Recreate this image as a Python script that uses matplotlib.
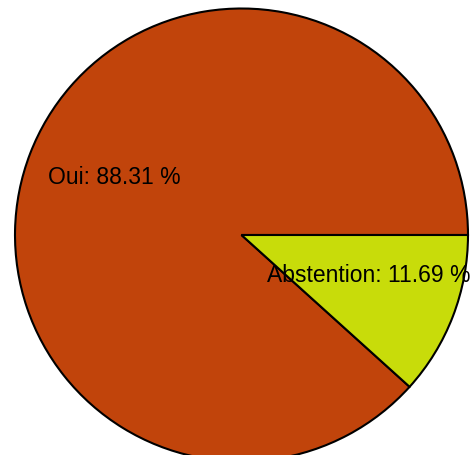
import matplotlib
matplotlib.use("Agg")
import matplotlib.pyplot as plt
import matplotlib.transforms as mtransforms

labels = ["Oui", "Abstention"]
values = [88.31, 11.69]
colors = ["#c1440b", "#c8dc0a"]

plt.rcParams['font.family'] = ['Liberation Sans', 'DejaVu Sans']

fig = plt.figure(figsize=(4.77, 4.55), dpi=100)
W, H = 477, 455
cx, cy, r = 241.5, 235, 226.5
ax = fig.add_axes([(cx - r) / W, (H - cy - r) / H, 2 * r / W, 2 * r / H])

wedges, texts = ax.pie(values, colors=colors, startangle=0, counterclock=True,
                       radius=1, labels=[f"{l}: {v:.2f} %" for l, v in zip(labels, values)],
                       labeldistance=0.6,
                       wedgeprops=dict(edgecolor="black", linewidth=1.5),
                       textprops=dict(fontsize=16.5, color="black"))
for t in texts:
    t.set_horizontalalignment("center")
    t.set_verticalalignment("baseline")
    t.set_transform(mtransforms.offset_copy(ax.transData, fig=fig, x=0, y=2, units="dots"))
ax.set_xlim(-1, 1)
ax.set_ylim(-1, 1)
ax.set_aspect("equal", adjustable="box")
ax.axis("off")
fig.savefig("out.png", dpi=100)
